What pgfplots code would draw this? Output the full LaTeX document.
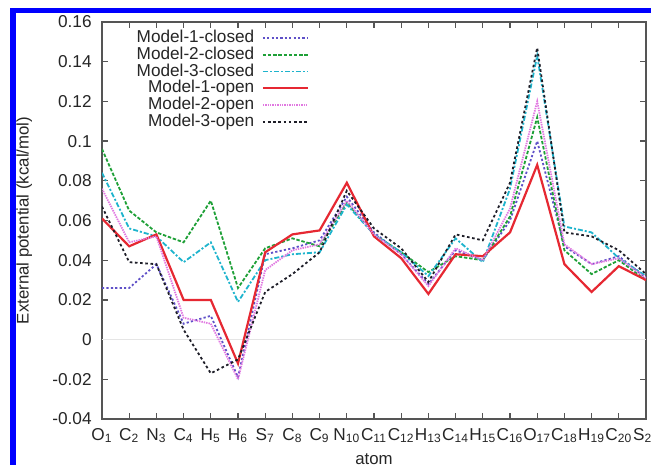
\documentclass[border=0pt]{standalone}
\usepackage{fontspec}
\setmainfont{Liberation Sans}
\usepackage{pgfplots}
\pgfplotsset{compat=1.18}
\definecolor{m1c}{RGB}{95,80,200}
\definecolor{m2c}{RGB}{30,160,55}
\definecolor{m3c}{RGB}{30,180,205}
\definecolor{m1o}{RGB}{230,40,50}
\definecolor{m2o}{RGB}{225,120,225}
\definecolor{m3o}{RGB}{30,30,40}
\definecolor{axgray}{RGB}{85,85,85}
\begin{document}
\fontsize{8.6}{10}\selectfont
\begin{tikzpicture}
\useasboundingbox (0,0) rectangle (325.5pt,232.5pt);
\clip (0,0) rectangle (325.5pt,232.5pt);
\fill[white] (0,0) rectangle (325.5pt,232.5pt);
\begin{axis}[
  at={(51pt,23pt)}, anchor=south west,
  scale only axis, width=272pt, height=198.5pt,
  xmin=0, xmax=20, ymin=-0.04, ymax=0.16,
  xtick={0,...,20},
  xticklabels={O\textsubscript{1},C\textsubscript{2},N\textsubscript{3},C\textsubscript{4},H\textsubscript{5},H\textsubscript{6},S\textsubscript{7},C\textsubscript{8},C\textsubscript{9},N\textsubscript{10},C\textsubscript{11},C\textsubscript{12},H\textsubscript{13},C\textsubscript{14},H\textsubscript{15},C\textsubscript{16},O\textsubscript{17},C\textsubscript{18},H\textsubscript{19},C\textsubscript{20},S\textsubscript{21}},
  ytick={-0.04,-0.02,0,0.02,0.04,0.06,0.08,0.1,0.12,0.14,0.16},
  yticklabels={-0.04,-0.02,0,0.02,0.04,0.06,0.08,0.1,0.12,0.14,0.16},
  tick align=inside, major tick length=2.8pt,
  tick style={axgray, line width=0.6pt},
  axis line style={axgray, line width=0.6pt},
  ticklabel style={font=\fontsize{8.6}{10}\selectfont, text=black!85},
  yticklabel style={inner sep=0pt, xshift=-5pt},
  xticklabel style={inner sep=0pt, yshift=-4.5pt},
  xlabel={atom}, ylabel={External potential (kcal/mol)},
  label style={font=\fontsize{8.4}{10}\selectfont, text=black!85},
  xlabel style={at={(axis description cs:0.5,-0.1)}, anchor=center},
  ylabel style={at={(axis description cs:-0.143,0.5)}, anchor=center},
  legend plot pos=right,
  legend cell align=right,
  legend style={at={(0.381,0.982)}, anchor=north east, draw=none, fill=none,
    inner sep=0pt, row sep=0pt, column sep=3.4pt, font=\fontsize{8.6}{10}\selectfont, text=black!85,
    nodes={inner sep=0.3pt, text height=6.2pt, text depth=1.6pt}},
  legend image code/.code={\draw[#1] (0pt,0pt) -- (22.5pt,0pt);},
]
\addplot[gray!20, line width=0.5pt, forget plot] coordinates {(0,0) (20,0)};
\addplot[m1c, line width=0.9pt, dash pattern=on 1.1pt off 1.1pt] coordinates {
(0,0.026) (1,0.026) (2,0.038) (3,0.008) (4,0.012) (5,-0.019) (6,0.043) (7,0.046) (8,0.050) (9,0.072) (10,0.054)
(11,0.043) (12,0.028) (13,0.045) (14,0.040) (15,0.060) (16,0.100) (17,0.047) (18,0.038) (19,0.042) (20,0.031)};
\addlegendentry{Model-1-closed}
\addplot[m2c, line width=0.9pt, dash pattern=on 1.7pt off 0.9pt] coordinates {
(0,0.096) (1,0.065) (2,0.054) (3,0.049) (4,0.070) (5,0.026) (6,0.046) (7,0.051) (8,0.047) (9,0.069) (10,0.053)
(11,0.044) (12,0.034) (13,0.042) (14,0.040) (15,0.062) (16,0.112) (17,0.045) (18,0.033) (19,0.040) (20,0.030)};
\addlegendentry{Model-2-closed}
\addplot[m3c, line width=0.9pt, dash pattern=on 2.5pt off 1pt on 1pt off 1pt] coordinates {
(0,0.084) (1,0.056) (2,0.052) (3,0.039) (4,0.049) (5,0.019) (6,0.040) (7,0.043) (8,0.044) (9,0.068) (10,0.053)
(11,0.044) (12,0.032) (13,0.051) (14,0.039) (15,0.076) (16,0.143) (17,0.057) (18,0.054) (19,0.041) (20,0.032)};
\addlegendentry{Model-3-closed}
\addplot[m1o, line width=1.1pt] coordinates {
(0,0.061) (1,0.047) (2,0.053) (3,0.020) (4,0.020) (5,-0.012) (6,0.044) (7,0.053) (8,0.055) (9,0.079) (10,0.052)
(11,0.041) (12,0.023) (13,0.043) (14,0.042) (15,0.054) (16,0.088) (17,0.038) (18,0.024) (19,0.037) (20,0.030)};
\addlegendentry{Model-1-open}
\addplot[m2o, line width=0.9pt, dash pattern=on 0.7pt off 0.5pt] coordinates {
(0,0.076) (1,0.049) (2,0.052) (3,0.011) (4,0.008) (5,-0.020) (6,0.035) (7,0.045) (8,0.048) (9,0.070) (10,0.053)
(11,0.043) (12,0.027) (13,0.046) (14,0.040) (15,0.066) (16,0.120) (17,0.048) (18,0.038) (19,0.041) (20,0.031)};
\addlegendentry{Model-2-open}
\addplot[m3o, line width=0.9pt, dash pattern=on 1.3pt off 1.3pt] coordinates {
(0,0.067) (1,0.039) (2,0.038) (3,0.005) (4,-0.017) (5,-0.010) (6,0.024) (7,0.033) (8,0.044) (9,0.075) (10,0.056)
(11,0.046) (12,0.029) (13,0.053) (14,0.050) (15,0.079) (16,0.147) (17,0.054) (18,0.052) (19,0.045) (20,0.033)};
\addlegendentry{Model-3-open}
\end{axis}
\fill[blue] (5pt,226pt) rectangle (325.5pt,228.5pt);
\fill[blue] (5pt,0pt) rectangle (8pt,228.5pt);
\end{tikzpicture}
\end{document}
